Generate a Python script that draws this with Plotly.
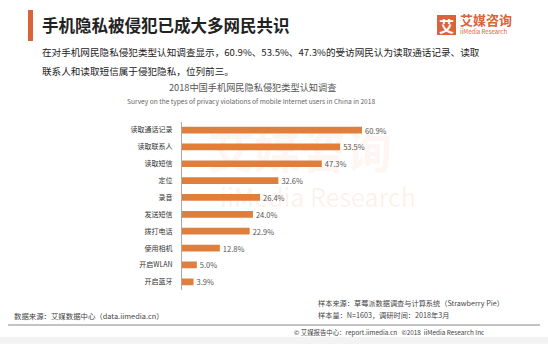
import plotly.graph_objects as go

W, H = 548, 344
categories = ["读取通话记录", "读取联系人", "读取短信", "定位", "录音",
              "发送短信", "拨打电话", "使用相机", "开启WLAN", "开启蓝牙"]
values = [60.9, 53.5, 47.3, 32.6, 26.4, 24.0, 22.9, 12.8, 5.0, 3.9]
labels = [f"{v:.1f}%" for v in values]

title = "手机隐私被侵犯已成大多网民共识"
desc1 = "在对手机网民隐私侵犯类型认知调查显示，60.9%、53.5%、47.3%的受访网民认为读取通话记录、读取"
desc2 = "联系人和读取短信属于侵犯隐私，位列前三。"
chart_title = "2018中国手机网民隐私侵犯类型认知调查"
chart_sub = "Survey on the types of privacy violations of mobile Internet users in China in 2018"
src_left = "数据来源：艾媒数据中心（data.iimedia.cn）"
src_r1 = "样本来源：草莓派数据调查与计算系统（Strawberry Pie）"
src_r2 = "样本量：N=1603，调研时间：2018年3月"
footer = "© 艾媒报告中心：report.iimedia.cn   ©2018  iiMedia Research Inc"

FONT = "Noto Sans CJK SC"
ORANGE = "#E07E3C"
BRAND = "#D9643A"

def px(x):
    return x / W

def py(y):
    return 1 - y / H

fig = go.Figure(go.Bar(
    x=values, y=categories, orientation="h",
    marker=dict(color=ORANGE, line=dict(width=0)),
    text=labels, textposition="outside", cliponaxis=False, constraintext="none",
    textfont=dict(size=7.5, color="#555555", family=FONT),
))

xmax = 70
x0, xscale = 182, 2.956
fig.update_layout(
    width=W, height=H, margin=dict(l=0, r=0, t=0, b=0),
    paper_bgcolor="white", plot_bgcolor="rgba(0,0,0,0)",
    showlegend=False, bargap=0.6,
    font=dict(family=FONT),
    xaxis=dict(domain=[px(x0), px(x0 + xmax * xscale)], range=[0, xmax],
               visible=False, fixedrange=True),
    yaxis=dict(domain=[py(290.2), py(121.6)], autorange="reversed",
               showline=True, linecolor="#aaaaaa", linewidth=1,
               showgrid=False, zeroline=False, ticks="", ticklabelstandoff=7,
               tickfont=dict(size=7, color="#333333", family=FONT)),
)

ann = []
def add(text, x, y, size, color, xanchor="left", bold=False):
    t = f"<b>{text}</b>" if bold else text
    ann.append(dict(text=t, x=px(x), y=py(y), xref="paper", yref="paper",
                    xanchor=xanchor, yanchor="middle", showarrow=False,
                    font=dict(size=size, color=color, family=FONT)))

# faint watermark, as in the reference
add("艾媒咨询", 300, 148, 46, "rgba(224,126,60,0.08)", xanchor="center", bold=True)
add("iiMedia Research", 318, 196, 25, "rgba(224,126,60,0.10)", xanchor="center")

add(title, 40, 25, 16.5, "#222222", bold=True)
add(desc1, 40, 52, 9.6, "#222222")
add(desc2, 40, 71, 9.6, "#222222")
add(chart_title, 252, 87, 9.2, "#555555", xanchor="center")
add(chart_sub, 251, 101, 6.6, "#666666", xanchor="center")
add("艾", 446.5, 25, 15, "white", xanchor="center", bold=True)
add("艾媒咨询", 458, 20, 13, BRAND, bold=True)
add("iiMedia Research", 458, 32, 6, BRAND)
add(src_left, 12, 315, 7.4, "#444444")
add(src_r1, 316, 303, 7.2, "#444444")
add(src_r2, 316, 315, 7.2, "#444444")
add(footer, 292, 332, 6.4, "#444444")
fig.update_layout(annotations=ann)

shapes = [
    dict(type="rect", xref="paper", yref="paper", x0=px(28), x1=px(33),
         y0=py(41), y1=py(10), fillcolor=BRAND, line=dict(width=0)),
    dict(type="rect", xref="paper", yref="paper", x0=px(437), x1=px(456),
         y0=py(35), y1=py(15), fillcolor=BRAND, line=dict(width=0), layer="below"),
    dict(type="rect", xref="paper", yref="paper", x0=0, x1=1,
         y0=0, y1=py(337), fillcolor="#f3f3f3", line=dict(width=0), layer="below"),
    dict(type="line", xref="paper", yref="paper", x0=px(8), x1=px(540),
         y0=py(325), y1=py(325), line=dict(color="#888888", width=1)),
]
fig.update_layout(shapes=shapes)

fig.write_html("out.html")
